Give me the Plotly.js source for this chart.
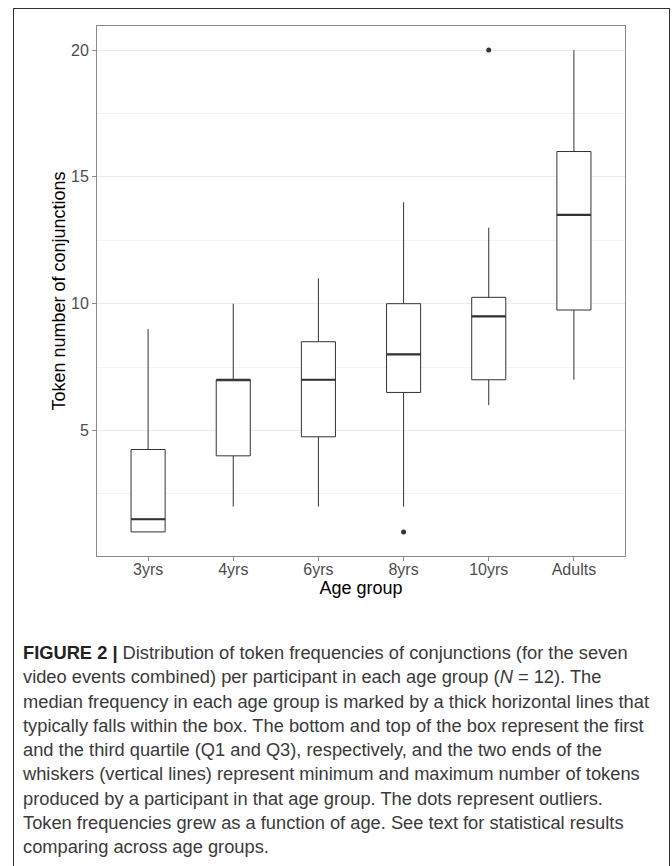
<!DOCTYPE html>
<html>
<head>
<meta charset="utf-8">
<script src="https://cdn.plot.ly/plotly-3.0.1.min.js"></script>
<style>
  html, body { margin: 0; padding: 0; background: #ffffff; }
  body { width: 672px; height: 866px; position: relative; overflow: hidden; }
  #frame { position: absolute; left: 13px; top: 8px; width: 655px; height: 900px;
           border-left: 1.5px solid #333; border-top: 1.5px solid #333; border-right: 1.5px solid #333; }
  #chart { position: absolute; left: 0; top: 0; width: 672px; height: 600px; }
  #caption { position: absolute; left: 23px; top: 641px; width: 760px;
             font-family: "Liberation Sans", Arial, sans-serif; font-size: 18.3px; line-height: 24.3px;
             color: #3a3a3a; }
  #caption .ln { white-space: nowrap; }
  #caption b { color: #222; }
</style>
</head>
<body>
<div id="frame"></div>
<div id="chart"></div>
<div id="caption">
<div class="ln"><b>FIGURE 2 |</b> Distribution of token frequencies of conjunctions (for the seven</div>
<div class="ln">video events combined) per participant in each age group (<i>N</i> = 12). The</div>
<div class="ln">median frequency in each age group is marked by a thick horizontal lines that</div>
<div class="ln">typically falls within the box. The bottom and top of the box represent the first</div>
<div class="ln">and the third quartile (Q1 and Q3), respectively, and the two ends of the</div>
<div class="ln">whiskers (vertical lines) represent minimum and maximum number of tokens</div>
<div class="ln">produced by a participant in that age group. The dots represent outliers.</div>
<div class="ln">Token frequencies grew as a function of age. See text for statistical results</div>
<div class="ln">comparing across age groups.</div>
</div>
<script>
// Data
const groups      = ["3yrs", "4yrs", "6yrs", "8yrs", "10yrs", "Adults"];
const lowerWhisker = [1, 2, 2, 2, 6, 7];
const q1Values     = [1, 4, 4.75, 6.5, 7, 9.75];
const medianValues = [1.5, 7, 7, 8, 9.5, 13.5];
const q3Values     = [4.25, 7, 8.5, 10, 10.25, 16];
const upperWhisker = [9, 10, 11, 14, 13, 20];
const outlierGroups = ["8yrs", "10yrs"];
const outlierValues = [1, 20];
const yTicks = [5, 10, 15, 20];
const yMinorTicks = [2.5, 7.5, 12.5, 17.5];

const lineColor = "#333333";

const boxTrace = {
  type: "box",
  x: groups,
  q1: q1Values,
  median: medianValues,
  q3: q3Values,
  lowerfence: lowerWhisker,
  upperfence: upperWhisker,
  width: 0.4,
  whiskerwidth: 0,
  fillcolor: "#ffffff",
  line: { color: lineColor, width: 1 },
  boxpoints: false,
  hoverinfo: "skip",
  showlegend: false
};

// thick median bars drawn as flat boxes at the median
const medianTrace = {
  type: "box",
  x: groups,
  q1: medianValues,
  median: medianValues,
  q3: medianValues,
  lowerfence: medianValues,
  upperfence: medianValues,
  width: 0.4,
  whiskerwidth: 0,
  fillcolor: "rgba(0,0,0,0)",
  line: { color: lineColor, width: 2.2 },
  boxpoints: false,
  hoverinfo: "skip",
  showlegend: false
};

const outlierTrace = {
  type: "scatter",
  mode: "markers",
  x: outlierGroups,
  y: outlierValues,
  marker: { color: lineColor, size: 5 },
  hoverinfo: "skip",
  showlegend: false
};

const layout = {
  width: 672,
  height: 600,
  margin: { l: 97, r: 47, t: 26, b: 44 },
  paper_bgcolor: "rgba(0,0,0,0)",
  plot_bgcolor: "#ffffff",
  boxmode: "overlay",
  font: { family: "Liberation Sans, Arial, sans-serif", size: 16, color: "#4d4d4d" },
  xaxis: {
    type: "category",
    categoryorder: "array",
    categoryarray: groups,
    range: [-0.6, 5.6],
    showgrid: false,
    zeroline: false,
    showline: true,
    mirror: true,
    linecolor: "#8a8a8a",
    linewidth: 1,
    ticks: "outside",
    ticklen: 4,
    tickcolor: "#8a8a8a",
    ticklabelstandoff: -5,
    tickfont: { size: 16, color: "#4d4d4d" },
    title: { text: "Age group", font: { size: 18, color: "#000000" }, standoff: 3 }
  },
  yaxis: {
    range: [0.05, 20.95],
    tickvals: yTicks,
    ticktext: yTicks.map(String),
    showgrid: true,
    gridcolor: "#ebebeb",
    gridwidth: 1,
    minor: { tickvals: yMinorTicks, showgrid: true, gridcolor: "#f3f3f3", gridwidth: 1, ticks: "" },
    zeroline: false,
    showline: true,
    mirror: true,
    linecolor: "#8a8a8a",
    linewidth: 1,
    ticks: "outside",
    ticklen: 4,
    tickcolor: "#8a8a8a",
    tickfont: { size: 16, color: "#4d4d4d" },
    title: { text: "Token number of conjunctions", font: { size: 18, color: "#000000" }, standoff: 0 }
  }
};

Plotly.newPlot("chart", [boxTrace, medianTrace, outlierTrace], layout, { staticPlot: true, displayModeBar: false });
</script>
</body>
</html>
